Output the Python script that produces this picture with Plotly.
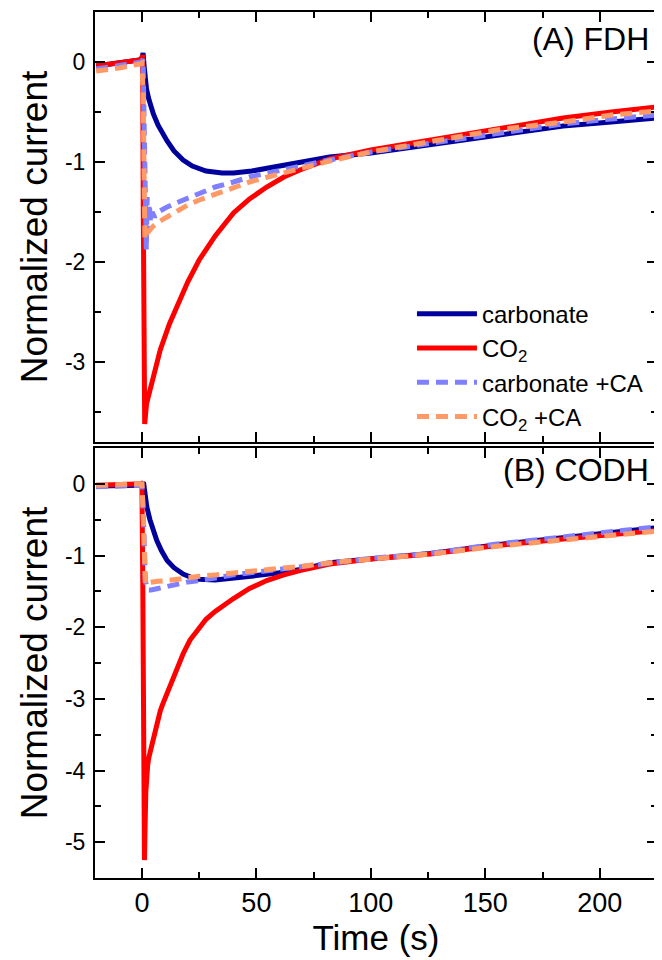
import plotly.graph_objects as go
from plotly.subplots import make_subplots

# ---------------- data ----------------
# Panel A: FDH
a_carb_t = [-20, -10, -1, 0, 0.5, 1, 1.5, 2, 3, 4, 5, 7, 9, 11, 14, 18, 22, 28, 35, 40, 48, 55, 65, 82, 100, 126, 155, 184, 205, 225]
a_carb_v = [-0.04, -0.01, 0.02, 0.04, 0.09, -0.05, -0.18, -0.27, -0.37, -0.45, -0.52, -0.63, -0.72, -0.79, -0.89, -0.98, -1.04, -1.09, -1.11, -1.11, -1.09, -1.06, -1.02, -0.95, -0.91, -0.83, -0.73, -0.64, -0.6, -0.56]

a_co2_t = [-20, -10, -1, 0, 0.3, 0.6, 0.9, 1.2, 2, 3.5, 5, 8, 12, 16.6, 20, 25, 32, 40, 47, 54.5, 62, 69, 82, 100, 126, 155, 184, 205, 225]
a_co2_v = [-0.04, -0.01, 0.02, 0.04, 0.07, -1.5, -3.3, -3.62, -3.42, -3.28, -3.15, -2.88, -2.62, -2.38, -2.2, -1.98, -1.74, -1.51, -1.37, -1.25, -1.15, -1.08, -0.97, -0.88, -0.78, -0.66, -0.56, -0.5, -0.45]

a_carbca_t = [-20, -10, -1, 0, 0.5, 0.8, 1.0, 1.3, 1.6, 1.9, 2.3, 2.7, 3.2, 3.8, 4.5, 5.5, 7, 9, 11, 15, 20, 25, 32, 40, 47, 55, 65, 82, 100, 126, 155, 184, 205, 225]
a_carbca_v = [-0.07, -0.04, -0.01, 0.0, 0.03, -0.5, -1.1, -1.5, -1.2, -1.88, -1.35, -1.7, -1.42, -1.6, -1.5, -1.55, -1.5, -1.47, -1.45, -1.41, -1.36, -1.31, -1.25, -1.2, -1.15, -1.11, -1.06, -0.98, -0.9, -0.81, -0.71, -0.62, -0.57, -0.53]

a_co2ca_t = [-20, -10, -1, 0, 0.5, 0.8, 1.0, 1.3, 2, 3.5, 5, 8, 11, 15, 20, 25, 32, 40, 47, 55, 65, 82, 100, 126, 155, 184, 205, 225]
a_co2ca_v = [-0.09, -0.06, -0.02, -0.01, -0.3, -1.0, -1.5, -1.77, -1.72, -1.67, -1.64, -1.59, -1.55, -1.49, -1.43, -1.38, -1.32, -1.26, -1.2, -1.15, -1.09, -0.99, -0.9, -0.8, -0.68, -0.6, -0.53, -0.49]

# Panel B: CODH
b_carb_t = [-20, -1, 0, 0.7, 1.2, 2.2, 3.5, 5, 6.5, 8.5, 11, 14, 18, 22, 25, 32, 40, 50, 60, 70, 82, 100, 126, 155, 184, 205, 225]
b_carb_v = [-0.03, -0.02, 0.0, 0.02, -0.1, -0.33, -0.5, -0.66, -0.79, -0.93, -1.07, -1.17, -1.26, -1.31, -1.33, -1.34, -1.32, -1.28, -1.24, -1.19, -1.1, -1.04, -0.97, -0.85, -0.75, -0.68, -0.61]

b_co2_t = [-20, -1, 0, 0.4, 0.8, 1.1, 1.4, 1.7, 2.0, 2.5, 3, 4, 4.9, 6, 7, 8, 9, 10, 11, 12.5, 14, 16, 18, 21, 25, 28, 32, 36, 40, 47, 54.5, 62, 69, 82, 100, 126, 155, 184, 205, 225]
b_co2_v = [-0.02, -0.01, 0.0, -1.5, -4.0, -5.25, -4.75, -4.3, -4.08, -3.93, -3.82, -3.68, -3.58, -3.42, -3.28, -3.17, -3.08, -3.0, -2.92, -2.78, -2.65, -2.5, -2.37, -2.18, -2.0, -1.89, -1.78, -1.68, -1.6, -1.46, -1.35, -1.27, -1.21, -1.12, -1.05, -0.98, -0.86, -0.77, -0.7, -0.65]

b_carbca_t = [-20, -1, 0, 0.5, 1, 1.5, 2.5, 4, 7, 11, 15, 20, 25, 32, 40, 50, 60, 70, 82, 100, 126, 155, 184, 205, 225]
b_carbca_v = [-0.04, -0.03, -0.02, -0.3, -1.0, -1.35, -1.48, -1.48, -1.46, -1.43, -1.4, -1.37, -1.35, -1.31, -1.27, -1.23, -1.19, -1.15, -1.1, -1.04, -0.97, -0.84, -0.74, -0.67, -0.6]

b_co2ca_t = [-20, -1, 0, 0.5, 1, 1.5, 2.5, 4, 7, 11, 15, 20, 25, 32, 40, 50, 60, 70, 82, 100, 126, 155, 184, 205, 225]
b_co2ca_v = [-0.02, -0.01, 0.0, -0.4, -1.2, -1.4, -1.38, -1.37, -1.36, -1.35, -1.33, -1.31, -1.29, -1.27, -1.24, -1.21, -1.18, -1.15, -1.1, -1.05, -0.98, -0.87, -0.78, -0.71, -0.66]

series_names = ["carbonate", "CO<sub>2</sub>", "carbonate +CA", "CO<sub>2</sub> +CA"]
series_colors = ["#00009C", "#FF0000", "#8080FF", "#FF9966"]

x_tickvals = [0, 50, 100, 150, 200]
x_ticktext = ["0", "50", "100", "150", "200"]
a_tickvals = [0, -1, -2, -3]
a_ticktext = ["0", "-1", "-2", "-3"]
b_tickvals = [0, -1, -2, -3, -4, -5]
b_ticktext = ["0", "-1", "-2", "-3", "-4", "-5"]

panel_labels = ["(A) FDH", "(B) CODH"]

# ---------------- figure ----------------
FONT = "Liberation Sans, Arial, sans-serif"
fig = make_subplots(rows=2, cols=1, shared_xaxes=False, vertical_spacing=0.007)

panels = [
    [(a_carb_t, a_carb_v), (a_co2_t, a_co2_v), (a_carbca_t, a_carbca_v), (a_co2ca_t, a_co2ca_v)],
    [(b_carb_t, b_carb_v), (b_co2_t, b_co2_v), (b_carbca_t, b_carbca_v), (b_co2ca_t, b_co2ca_v)],
]
for p, data in enumerate(panels):
    for i, (t, v) in enumerate(data):
        fig.add_trace(go.Scatter(
            x=t, y=v, mode="lines", name=series_names[i],
            line=dict(color=series_colors[i], width=5,
                      dash="solid" if i < 2 else "12px,7px"),
            showlegend=(p == 0), legendgroup=str(i),
        ), row=p + 1, col=1)

axis_common = dict(
    showline=True, linecolor="black", linewidth=2, mirror="ticks",
    ticks="inside", ticklen=10, tickwidth=2, tickcolor="black",
    showgrid=False, zeroline=False, automargin=False,
)
minor_x = dict(dtick=25, ticklen=6, tickwidth=2, tickcolor="black", ticks="inside", showgrid=False)
minor_y = dict(dtick=0.5, ticklen=6, tickwidth=2, tickcolor="black", ticks="inside", showgrid=False)

fig.update_xaxes(range=[-20.5, 225], tickvals=x_tickvals, ticktext=x_ticktext, minor=minor_x,
                 **axis_common)
fig.update_xaxes(showticklabels=False, row=1, col=1)
fig.update_xaxes(showticklabels=True, row=2, col=1,
                 tickfont=dict(family=FONT, size=27, color="black"),
                 title=dict(text="Time (s)", font=dict(family=FONT, size=35, color="black"), standoff=0))

fig.update_yaxes(range=[-3.8, 0.5], tickvals=a_tickvals, ticktext=a_ticktext, minor=minor_y,
                 row=1, col=1, **axis_common)
fig.update_yaxes(range=[-5.5, 0.5], tickvals=b_tickvals, ticktext=b_ticktext, minor=minor_y,
                 row=2, col=1, **axis_common)
fig.update_yaxes(tickfont=dict(family=FONT, size=23, color="black"), ticklabelstandoff=3,
                 title=dict(text="Normalized current", font=dict(family=FONT, size=37, color="black"), standoff=6))

fig.update_layout(
    xaxis=dict(domain=[0, 1]),
    yaxis=dict(domain=[0.5035, 1.0]),
    yaxis2=dict(domain=[0.0, 0.4965]),
)

fig.add_annotation(text=panel_labels[0], xref="x domain", yref="y domain", x=0.989, y=0.938,
                   xanchor="right", yanchor="middle", showarrow=False,
                   font=dict(family=FONT, size=32, color="black"), row=1, col=1)
fig.add_annotation(text=panel_labels[1], xref="x2 domain", yref="y2 domain", x=0.989, y=0.95,
                   xanchor="right", yanchor="middle", showarrow=False,
                   font=dict(family=FONT, size=32, color="black"))

# the page body adds an 8px offset, so the figure is sized to fit the 662x960 window
fig.update_layout(
    width=654, height=952,
    margin=dict(l=87, r=5, t=4, b=82),
    paper_bgcolor="white", plot_bgcolor="white",
    font=dict(family=FONT, color="black"),
    legend=dict(x=0.564, y=0.677, xanchor="left", yanchor="top",
                font=dict(family=FONT, size=24, color="black"),
                bgcolor="rgba(0,0,0,0)", itemwidth=60, tracegroupgap=0),
    showlegend=True,
)

fig.write_html("out.html")
